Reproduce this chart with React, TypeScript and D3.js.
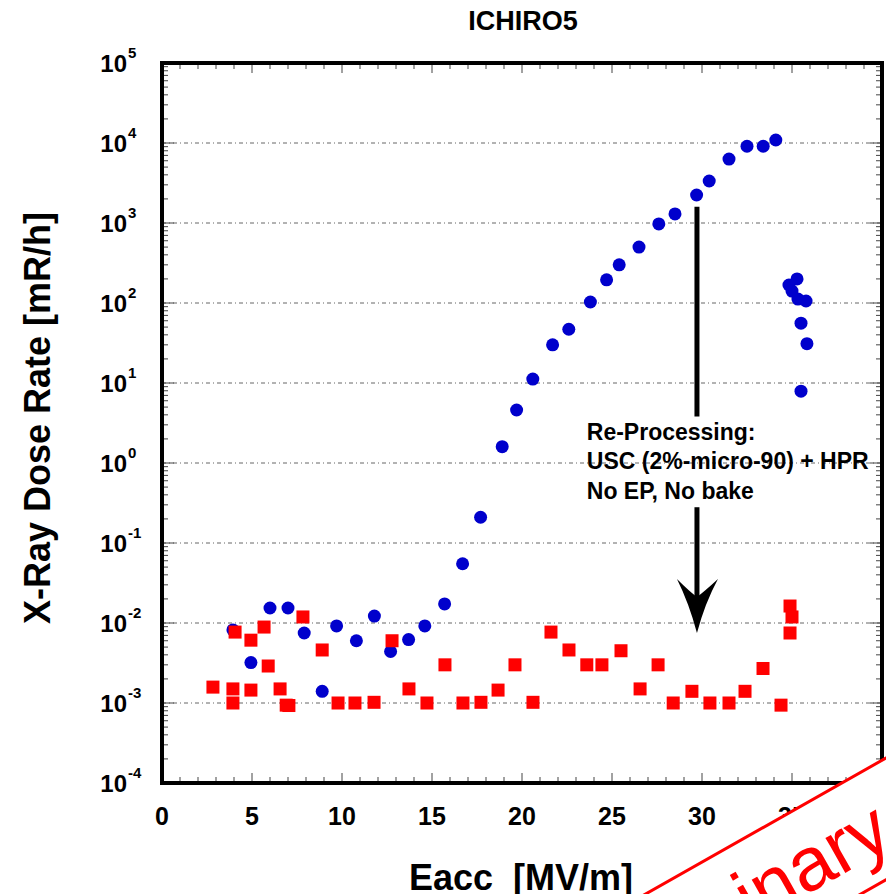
import React, { useEffect, useRef } from "react";
import * as d3 from "d3";

// Eacc [MV/m] and dose rate [mR/h]
const blueX = [3.94, 4.94, 6.0, 7.0, 7.9, 8.9, 9.7, 10.8, 11.8, 12.7, 13.7, 14.6, 15.7, 16.7, 17.7, 18.9, 19.7, 20.6, 21.7, 22.6, 23.8, 24.7, 25.4, 26.5, 27.6, 28.5, 29.7, 30.4, 31.5, 32.5, 33.4, 34.1, 34.83, 35.28, 35.0, 35.33, 35.78, 35.5, 35.83, 35.5];
const blueY = [0.0082, 0.0032, 0.0154, 0.0154, 0.0075, 0.0014, 0.0092, 0.006, 0.0122, 0.0044, 0.0062, 0.0092, 0.0173, 0.055, 0.21, 1.6, 4.6, 11.2, 30, 47, 103, 195, 300, 500, 975, 1300, 2240, 3350, 6300, 9100, 9100, 10900, 168, 200, 141, 112, 106, 56, 31, 7.9];
const redX = [2.83, 3.94, 3.94, 4.06, 4.94, 4.94, 5.67, 5.9, 6.56, 6.9, 7.05, 7.83, 8.9, 9.78, 10.72, 11.78, 12.78, 13.72, 14.72, 15.72, 16.72, 17.72, 18.67, 19.61, 20.61, 21.61, 22.61, 23.6, 24.44, 25.5, 26.56, 27.56, 28.4, 29.44, 30.44, 31.5, 32.39, 33.39, 34.39, 34.89, 35.0, 34.89];
const redY = [0.00158, 0.0015, 0.001, 0.0077, 0.0061, 0.00145, 0.0089, 0.0029, 0.0015, 0.00094, 0.00093, 0.0119, 0.0046, 0.001, 0.001, 0.00102, 0.006, 0.0015, 0.001, 0.003, 0.001, 0.00102, 0.00145, 0.003, 0.00102, 0.0077, 0.0046, 0.003, 0.003, 0.0045, 0.0015, 0.003, 0.001, 0.0014, 0.001, 0.001, 0.0014, 0.0027, 0.00094, 0.0163, 0.0119, 0.0075];

const xTicks = [0, 5, 10, 15, 20, 25, 30, 35, 40];
const yExps = [-4, -3, -2, -1, 0, 1, 2, 3, 4, 5];
const noteLines = ["Re-Processing:", "USC (2%-micro-90) + HPR", "No EP, No bake"];

// arrow annotation in data units
const arrowX = 29.72, arrowTop = 1600, gapTop = 3.8, gapBottom = 0.28, arrowTip = 0.0075;

const FONT = "'Liberation Sans', Arial, Helvetica, sans-serif";

export default function App() {
  const ref = useRef<SVGSVGElement>(null);
  useEffect(() => {
    const node = ref.current; if (!node) return;
    const svg = d3.select(node);
    svg.selectAll("*").remove();
    const W = 886, H = 894;
    const m = { l: 162, r: 882, t: 63, b: 783 };
    const x = d3.scaleLinear().domain([0, 40]).range([m.l, m.r]);
    const y = d3.scaleLog().domain([1e-4, 1e5]).range([m.b, m.t]);
    svg.attr("width", W).attr("height", H).attr("viewBox", `0 0 ${W} ${H}`);
    svg.append("rect").attr("width", W).attr("height", H).attr("fill", "#fff");
    const g = svg.append("g").attr("font-family", FONT);

    // title
    g.append("text").attr("x", 523).attr("y", 30).attr("text-anchor", "middle").attr("font-size", 27).attr("font-weight", "bold").text("ICHIRO5");

    // grid
    g.append("g").selectAll("line").data(yExps.slice(1, -1)).join("line")
      .attr("x1", m.l).attr("x2", m.r).attr("y1", (d) => y(10 ** d)).attr("y2", (d) => y(10 ** d))
      .attr("stroke", "#666").attr("stroke-width", 1).attr("stroke-dasharray", "4,3,1,3");

    // ticks
    const tk = g.append("g").attr("stroke", "#444").attr("stroke-width", 1);
    d3.range(0, 41).forEach((v) => {
      const len = v % 5 === 0 ? 10 : 6;
      tk.append("line").attr("x1", x(v)).attr("x2", x(v)).attr("y1", m.b).attr("y2", m.b - len);
      tk.append("line").attr("x1", x(v)).attr("x2", x(v)).attr("y1", m.t).attr("y2", m.t + len);
    });
    yExps.forEach((e) => {
      if (e === 5) return;
      d3.range(1, 10).forEach((k) => {
        const v = k * 10 ** e, len = k === 1 ? 12 : 6;
        tk.append("line").attr("x1", m.l).attr("x2", m.l + len).attr("y1", y(v)).attr("y2", y(v));
        tk.append("line").attr("x1", m.r).attr("x2", m.r - len).attr("y1", y(v)).attr("y2", y(v));
      });
    });

    // tick labels
    g.append("g").selectAll("text").data(xTicks).join("text")
      .attr("x", (d) => x(d)).attr("y", 825).attr("text-anchor", "middle")
      .attr("font-size", 25).attr("font-weight", "bold").text((d) => d);
    const yl = g.append("g").attr("font-weight", "bold");
    yExps.forEach((e) => {
      const yy = y(10 ** e);
      yl.append("text").attr("x", 127).attr("y", yy + 8.5).attr("text-anchor", "end").attr("font-size", 24).text("10");
      yl.append("text").attr("x", 128).attr("y", yy - 5).attr("font-size", 15).text(e);
    });

    // axis titles
    g.append("text").attr("x", 521).attr("y", 890).attr("text-anchor", "middle").attr("font-size", 36)
      .attr("font-weight", "bold").style("white-space", "pre").text("Eacc  [MV/m]");
    g.append("text").attr("transform", `translate(50,418) rotate(-90)`).attr("text-anchor", "middle")
      .attr("font-size", 36).attr("font-weight", "bold").text("X-Ray Dose Rate [mR/h]");

    // data
    g.append("g").selectAll("circle").data(blueX).join("circle")
      .attr("cx", (d) => x(d)).attr("cy", (_, i) => y(blueY[i])).attr("r", 6.5).attr("fill", "#0000cc");
    g.append("g").selectAll("rect").data(redX).join("rect")
      .attr("x", (d) => x(d) - 6.5).attr("y", (_, i) => y(redY[i]) - 6.5).attr("width", 13).attr("height", 13).attr("fill", "#ff0000");

    // frame
    g.append("rect").attr("x", m.l).attr("y", m.t).attr("width", m.r - m.l).attr("height", m.b - m.t)
      .attr("fill", "none").attr("stroke", "#000").attr("stroke-width", 4);

    // arrow + note
    const ax = x(arrowX);
    g.append("line").attr("x1", ax).attr("x2", ax).attr("y1", y(arrowTop)).attr("y2", y(gapTop)).attr("stroke", "#000").attr("stroke-width", 5);
    const tipY = y(arrowTip);
    g.append("line").attr("x1", ax).attr("x2", ax).attr("y1", y(gapBottom)).attr("y2", tipY - 30).attr("stroke", "#000").attr("stroke-width", 5);
    g.append("path")
      .attr("d", `M${ax - 20},${tipY - 54} Q${ax - 8},${tipY - 30} ${ax},${tipY} Q${ax + 8},${tipY - 30} ${ax + 21},${tipY - 54} Q${ax + 8},${tipY - 42} ${ax},${tipY - 36} Q${ax - 8},${tipY - 42} ${ax - 20},${tipY - 54} Z`)
      .attr("fill", "#000");
    const nt = g.append("g").attr("font-size", 23).attr("font-weight", "bold");
    noteLines.forEach((s, i) => {
      nt.append("text").attr("x", x(23.6)).attr("y", y(gapTop) + 23 + i * 29.5).text(s);
    });

    // stamp
    const st = svg.append("g").attr("transform", "translate(886,758) rotate(-29.5)");
    st.append("rect").attr("x", -460).attr("y", 0).attr("width", 500).attr("height", 106)
      .attr("fill", "#fff").attr("stroke", "#ff0000").attr("stroke-width", 3);
    st.append("text").attr("x", -34).attr("y", 80).attr("text-anchor", "end").attr("font-family", FONT)
      .attr("font-size", 76).attr("fill", "#ff0000").text("Preliminary");
  }, []);
  return <svg ref={ref} style={{ position: "absolute", left: 0, top: 0, display: "block" }} />;
}
